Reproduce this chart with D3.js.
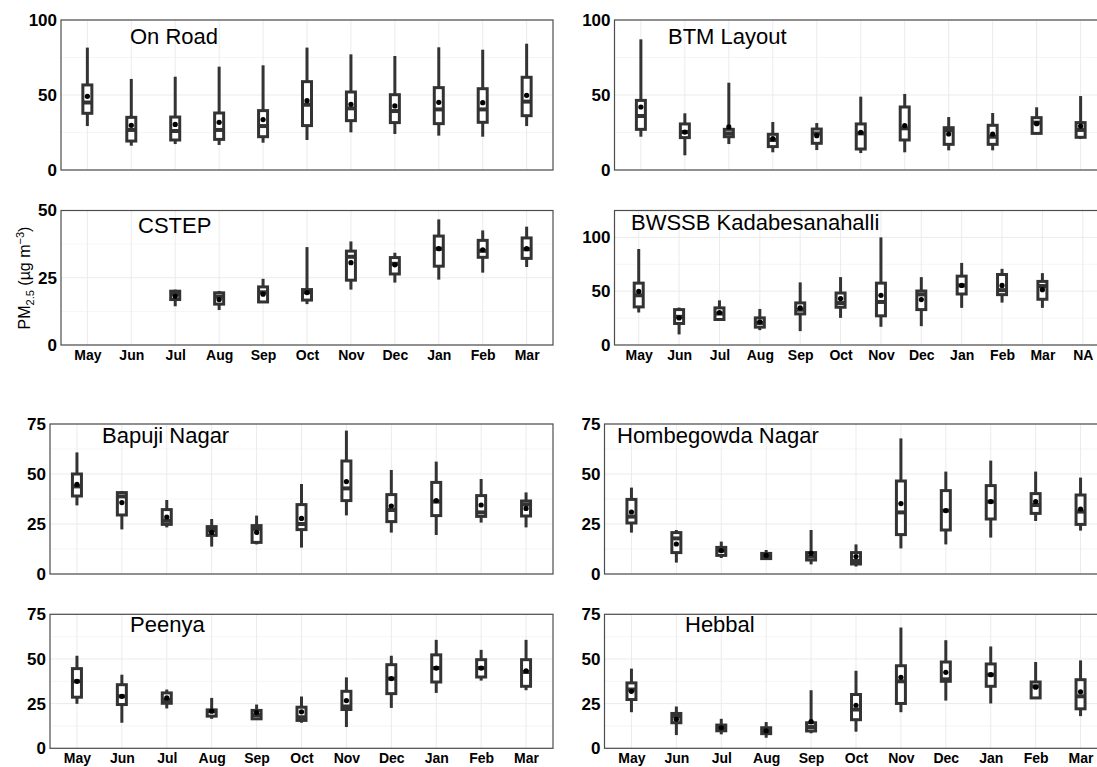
<!DOCTYPE html>
<html>
<head>
<meta charset="utf-8">
<script src="https://cdn.jsdelivr.net/npm/d3@7"></script>
<style>
  body { margin: 0; background: #fff; }
  text { font-family: "Liberation Sans", Arial, sans-serif; }
</style>
</head>
<body>
<script>
// months on the x axis
var months = ["May","Jun","Jul","Aug","Sep","Oct","Nov","Dec","Jan","Feb","Mar"];
var monthsNA = months.concat(["NA"]);

// each row: [lower whisker, q1, median, q3, upper whisker, mean], null = no data
var onRoad = [
  [29.3,37.8,45.0,56.7,81.6,49.1],[16.2,19.3,26.7,35.1,60.7,29.8],[17.3,20.0,26.0,35.3,62.2,30.4],
  [16.7,20.4,26.7,38.0,68.9,31.8],[18.2,22.2,29.3,39.6,69.8,33.6],[20.0,29.6,43.5,58.9,81.6,46.2],
  [25.1,32.9,41.1,52.0,77.1,43.8],[24.0,31.6,39.3,50.2,76.0,42.7],[22.9,30.9,40.4,54.9,81.8,45.1],
  [22.2,31.8,40.4,54.2,80.2,44.9],[29.3,36.2,45.6,61.8,84.2,49.8]
];
var btmLayout = [
  [22.2,27.1,36.0,46.4,87.1,42.0],[9.8,21.6,25.3,30.7,37.8,25.3],[17.3,22.2,24.4,27.1,58.2,28.7],
  [11.8,15.6,20.0,23.8,32.0,20.9],[13.3,17.8,24.4,27.3,31.3,22.9],[11.3,14.0,24.4,30.7,48.9,25.1],
  [11.8,20.0,27.8,42.0,50.7,29.6],[13.1,17.1,26.5,28.2,35.3,24.0],[13.1,17.1,22.2,29.8,38.0,24.0],
  [23.8,24.4,31.6,34.9,41.8,30.9],[20.7,21.8,26.7,31.6,49.3,29.3]
];
var cstep = [
  null,null,[14.4,16.9,19.0,20.0,20.6,18.1],[13.0,15.2,18.0,19.4,20.1,16.9],
  [15.8,16.0,19.6,21.6,24.6,18.9],[15.2,16.7,19.6,20.6,36.4,19.5],[20.6,24.1,32.8,34.9,38.5,30.6],
  [23.2,26.4,30.2,32.5,34.3,29.8],[24.3,29.3,35.8,40.5,46.7,35.8],[26.9,32.6,35.0,38.9,42.6,35.4],
  [29.0,32.2,35.6,39.8,44.0,35.8]
];
var bwssb = [
  [30.2,35.4,46.2,57.5,89.2,49.8],[9.8,20.0,26.2,32.9,34.8,25.2],[22.5,23.7,29.2,34.5,41.5,30.2],
  [13.8,16.6,20.5,25.2,33.5,21.5],[12.9,28.9,32.8,39.1,58.2,34.5],[25.2,35.1,39.0,48.3,63.1,43.1],
  [16.9,27.1,40.0,57.5,100.0,46.2],[17.5,32.9,47.0,50.2,63.1,42.2],[34.5,47.4,55.4,64.0,76.3,55.4],
  [39.4,46.8,51.0,65.5,70.8,55.4],[34.5,42.5,54.8,59.1,66.8,51.4],null
];
var bapuji = [
  [34.3,39.0,43.8,50.0,60.8,44.8],[22.3,29.5,38.8,40.7,41.5,35.7],[23.3,24.8,26.6,32.2,37.0,28.5],
  [13.7,19.3,22.0,23.7,27.5,20.8],[14.8,15.8,22.6,24.2,29.2,20.8],[13.2,22.2,25.0,34.7,45.0,27.8],
  [29.3,36.7,42.8,56.5,71.7,46.2],[20.7,26.2,32.0,39.7,52.0,34.0],[19.5,29.2,36.2,45.8,56.2,36.7],
  [25.7,28.8,30.8,39.2,47.5,34.5],[23.3,29.0,34.8,36.5,40.8,32.8]
];
var hombegowda = [
  [20.7,25.5,28.7,37.3,43.2,31.0],[5.7,10.7,17.8,20.7,22.0,15.0],[8.0,9.3,11.7,13.3,16.2,11.7],
  [7.5,7.7,9.2,10.3,12.0,9.3],[4.8,7.0,8.7,10.7,22.0,10.3],[3.7,5.0,6.5,10.7,14.8,8.7],
  [12.8,19.7,30.8,46.5,67.8,35.2],[14.8,22.0,31.7,41.7,51.2,31.7],[18.2,27.5,36.2,44.2,56.7,36.2],
  [26.5,30.3,34.5,40.2,51.2,36.2],[21.7,24.8,31.2,39.5,48.2,32.5]
];
var peenya = [
  [24.9,28.6,37.5,44.6,51.8,37.5],[14.3,24.5,29.1,35.6,41.2,29.1],[22.3,25.2,27.0,31.0,32.9,28.2],
  [16.5,18.0,20.8,21.5,28.2,20.8],[16.2,16.5,18.6,21.2,24.5,20.0],[14.3,15.6,17.4,23.0,29.0,20.4],
  [11.9,21.7,23.4,31.9,39.7,26.7],[22.6,30.6,39.0,46.8,51.8,39.0],[31.0,37.1,44.9,52.3,60.7,44.9],
  [37.9,39.9,44.9,49.6,55.1,44.9],[32.5,34.7,42.7,49.6,60.7,43.4]
];
var hebbal = [
  [20.2,27.3,32.9,36.6,44.6,31.9],[7.4,14.3,18.0,19.5,23.4,16.2],[7.8,9.8,11.5,13.0,16.5,11.5],
  [5.9,8.2,9.7,11.5,14.7,9.7],[8.4,9.7,11.9,14.3,32.5,14.9],[9.3,16.0,21.7,30.1,43.4,24.1],
  [20.2,25.1,37.5,46.2,67.6,39.7],[26.7,37.5,38.6,48.3,60.5,42.5],[25.1,34.7,41.2,47.2,57.0,41.2],
  [27.8,28.2,34.7,37.1,48.3,34.2],[18.0,22.1,29.1,38.4,49.2,31.6]
];

var width = 1097, height = 767;

// panel layout: station, categories, y max, ticks, minor grid, box, title position, show x labels
var panels = [
  {name:"On Road", data:onRoad, cats:months, ymax:100, ticks:[0,50,100], minor:[25,75],
   x0:61, x1:553, y0:20, y1:170, tx:130, ty:44, xlab:false},
  {name:"BTM Layout", data:btmLayout, cats:months, ymax:100, ticks:[0,50,100], minor:[25,75],
   x0:614.5, x1:1107, y0:20, y1:170, tx:668, ty:44, xlab:false},
  {name:"CSTEP", data:cstep, cats:months, ymax:50, ticks:[0,25,50], minor:[12.5,37.5],
   x0:61, x1:553, y0:210.5, y1:345, tx:138, ty:233, xlab:true},
  {name:"BWSSB Kadabesanahalli", data:bwssb, cats:monthsNA, ymax:125, ticks:[0,50,100], minor:[25,75],
   x0:614.5, x1:1107, y0:210.5, y1:345, tx:631, ty:230, xlab:true},
  {name:"Bapuji Nagar", data:bapuji, cats:months, ymax:75, ticks:[0,25,50,75], minor:[12.5,37.5,62.5],
   x0:50, x1:553, y0:424, y1:574, tx:102, ty:443, xlab:false},
  {name:"Hombegowda Nagar", data:hombegowda, cats:months, ymax:75, ticks:[0,25,50,75], minor:[12.5,37.5,62.5],
   x0:604.5, x1:1107.5, y0:424, y1:574, tx:617, ty:443, xlab:false},
  {name:"Peenya", data:peenya, cats:months, ymax:75, ticks:[0,25,50,75], minor:[12.5,37.5,62.5],
   x0:50, x1:553, y0:614.3, y1:748.3, tx:130, ty:632, xlab:true},
  {name:"Hebbal", data:hebbal, cats:months, ymax:75, ticks:[0,25,50,75], minor:[12.5,37.5,62.5],
   x0:604.5, x1:1107.5, y0:614.3, y1:748.3, tx:685, ty:632, xlab:true}
];

var svg = d3.select("body").append("svg")
    .attr("width", width)
    .attr("height", height);

var boxColor = "#333333";

panels.forEach(function(p) {
  var x = d3.scalePoint().domain(p.cats).range([p.x0, p.x1]).padding(0.6);
  var y = d3.scaleLinear().domain([0, p.ymax]).range([p.y1, p.y0]);
  var g = svg.append("g");

  // background grid
  g.selectAll(".minor").data(p.minor).enter().append("line")
      .attr("x1", p.x0).attr("x2", p.x1)
      .attr("y1", function(d) { return y(d); }).attr("y2", function(d) { return y(d); })
      .style("stroke", "#f0f0f0").style("stroke-width", 0.7);
  g.selectAll(".major").data(p.ticks).enter().append("line")
      .attr("x1", p.x0).attr("x2", p.x1)
      .attr("y1", function(d) { return y(d); }).attr("y2", function(d) { return y(d); })
      .style("stroke", "#ebebeb").style("stroke-width", 1);
  g.selectAll(".vgrid").data(p.cats).enter().append("line")
      .attr("x1", function(d) { return x(d); }).attr("x2", function(d) { return x(d); })
      .attr("y1", p.y0).attr("y2", p.y1)
      .style("stroke", "#ebebeb").style("stroke-width", 1);

  var rows = p.data.map(function(d, i) { return {cat: p.cats[i], v: d}; })
      .filter(function(d) { return d.v; });

  var box = g.selectAll(".box").data(rows).enter().append("g");
  box.append("line")
      .attr("x1", function(d) { return x(d.cat); }).attr("x2", function(d) { return x(d.cat); })
      .attr("y1", function(d) { return y(d.v[0]); }).attr("y2", function(d) { return y(d.v[4]); })
      .style("stroke", boxColor).style("stroke-width", 3);
  box.append("rect")
      .attr("x", function(d) { return x(d.cat) - 4.5; })
      .attr("width", 9)
      .attr("y", function(d) { return y(d.v[3]); })
      .attr("height", function(d) { return y(d.v[1]) - y(d.v[3]); })
      .style("fill", "#fff").style("stroke", boxColor).style("stroke-width", 3);
  box.append("line")
      .attr("x1", function(d) { return x(d.cat) - 4.5; }).attr("x2", function(d) { return x(d.cat) + 4.5; })
      .attr("y1", function(d) { return y(d.v[2]); }).attr("y2", function(d) { return y(d.v[2]); })
      .style("stroke", boxColor).style("stroke-width", 4);
  box.append("circle")
      .attr("cx", function(d) { return x(d.cat); })
      .attr("cy", function(d) { return y(d.v[5]); })
      .attr("r", 2.6)
      .style("fill", "#000");

  // panel border
  g.append("rect")
      .attr("x", p.x0).attr("y", p.y0)
      .attr("width", p.x1 - p.x0).attr("height", p.y1 - p.y0)
      .style("fill", "none").style("stroke", "#4d4d4d").style("stroke-width", 1.2);

  var ya = g.append("g")
      .attr("transform", "translate(" + p.x0 + ",0)")
      .call(d3.axisLeft(y).tickValues(p.ticks).tickSize(0).tickPadding(4).tickFormat(d3.format("d")));
  ya.select(".domain").remove();
  ya.selectAll("text")
      .style("font-size", "17px").style("font-weight", "bold").style("fill", "#000")
      .style("font-family", "'Liberation Sans', Arial, sans-serif");

  if (p.xlab) {
    var xa = g.append("g")
        .attr("transform", "translate(0," + p.y1 + ")")
        .call(d3.axisBottom(x).tickSize(0).tickPadding(5));
    xa.select(".domain").remove();
    xa.selectAll("text")
        .style("font-size", "14px").style("font-weight", "bold").style("fill", "#000")
        .style("font-family", "'Liberation Sans', Arial, sans-serif");
  }

  g.append("text")
      .attr("x", p.tx).attr("y", p.ty)
      .style("font-size", "22px").style("fill", "#000")
      .text(p.name);
});

// shared y axis title
var yt = svg.append("text")
    .attr("transform", "translate(30,278) rotate(-90)")
    .attr("text-anchor", "middle")
    .style("font-size", "16px").style("fill", "#000");
yt.append("tspan").text("PM");
yt.append("tspan").attr("dy", 4).style("font-size", "11px").text("2.5");
yt.append("tspan").attr("dy", -4).text(" (\u00b5g m");
yt.append("tspan").attr("dy", -6).style("font-size", "11px").text("\u22123");
yt.append("tspan").attr("dy", 6).text(")");
</script>
</body>
</html>
